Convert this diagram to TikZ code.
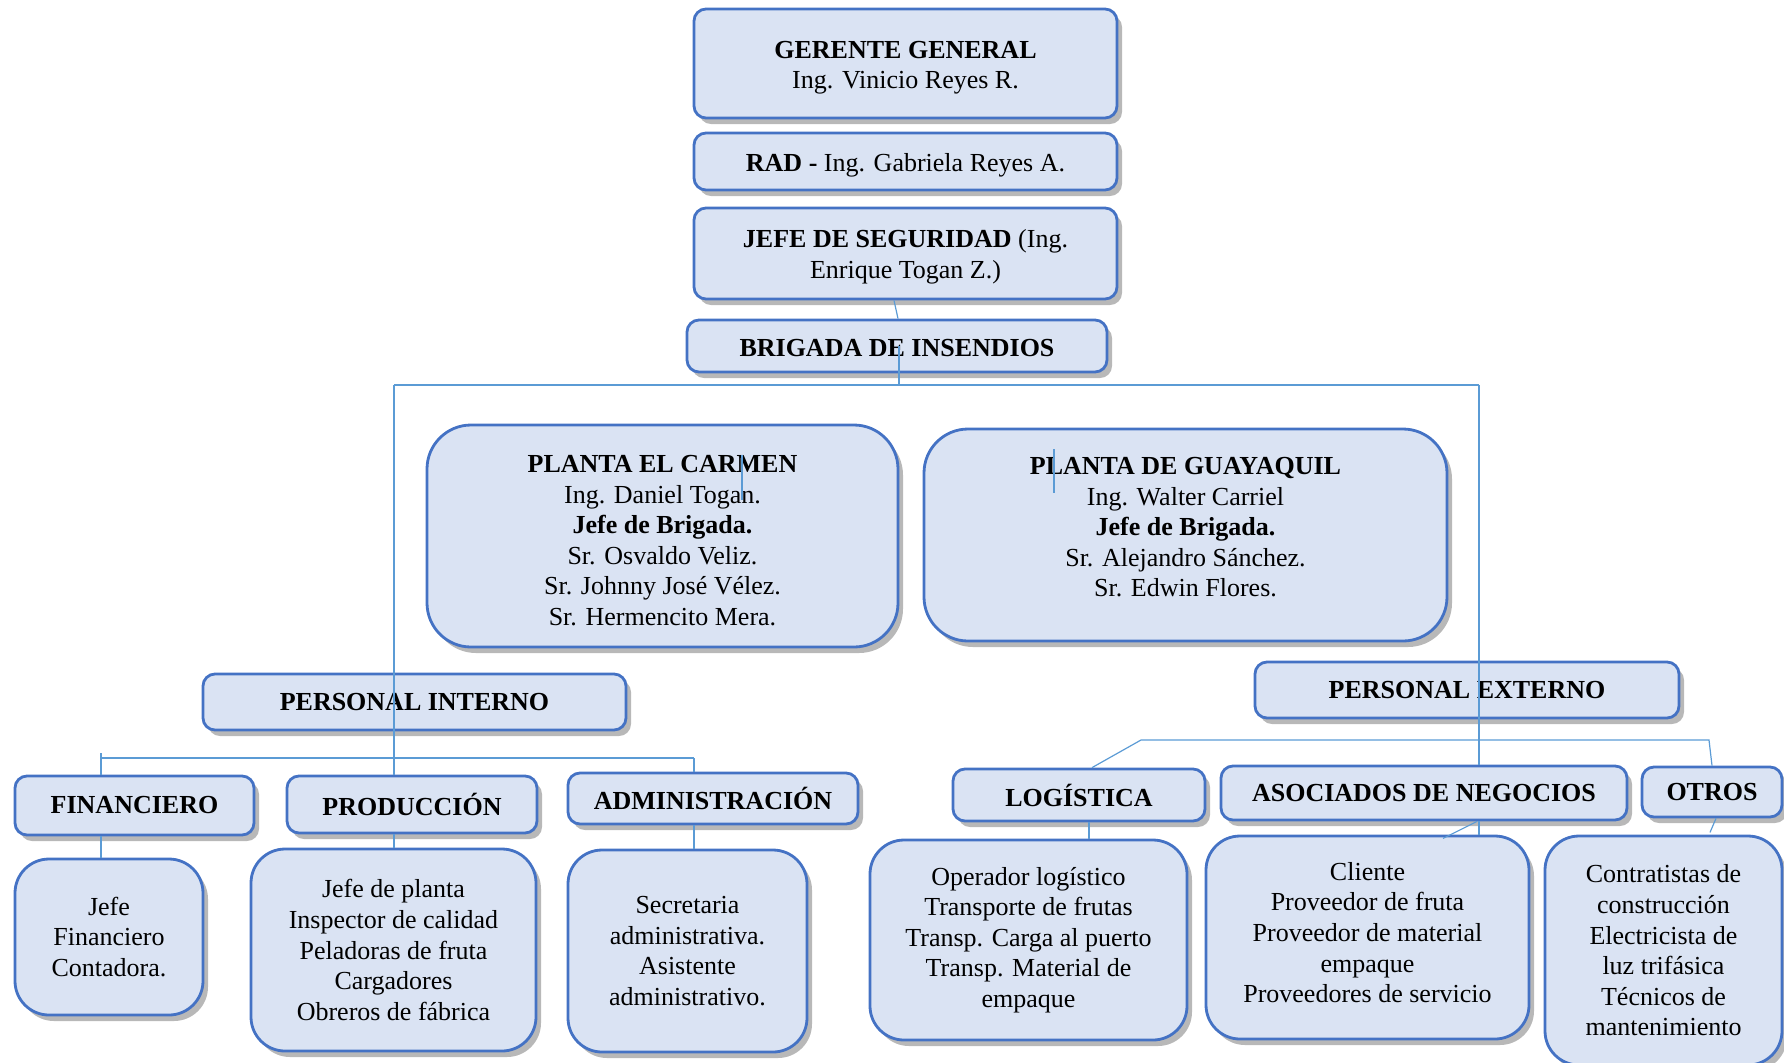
\documentclass[tikz,border=0pt]{standalone}
\usepackage{fontspec}
\setmainfont{Liberation Serif}
\usetikzlibrary{shadows}
\definecolor{boxline}{HTML}{4472C4}
\definecolor{boxfill}{HTML}{DAE3F3}
\definecolor{linkcol}{HTML}{5B9BD5}

\begin{document}
\begin{tikzpicture}[x=0.5pt, y=-0.5pt,
    font=\fontsize{13}{15.3}\selectfont,
    sz/.style 2 args={minimum width=#1*0.5pt, minimum height=#2*0.5pt},
    box/.style={draw=boxline, fill=boxfill, line width=1.4pt, rounded corners=6pt,
      align=center, inner sep=0pt,
      drop shadow={shadow xshift=2.5pt, shadow yshift=-3pt, fill=black, opacity=0.28}},
    head/.style={box, font=\fontsize{13}{15.3}\selectfont\bfseries},
    plant/.style={box, rounded corners=22pt},
    detail/.style={box, rounded corners=17pt},
    lift/.style={execute at begin node={\rule{0pt}{12.5pt}},
      execute at end node={\rule[-2.5pt]{0pt}{0pt}}},
    link/.style={draw=linkcol, line width=0.6pt}]
  \useasboundingbox (0,0) rectangle (1784,1062);

  % direccion
  \node[box, sz={423}{109}] (ger) at (905.5,63.5) {\rule{0pt}{12.6pt}\textbf{GERENTE GENERAL}\\Ing. Vinicio Reyes R.};
  \node[box, lift, sz={423}{57}] (rad) at (905.5,161.5) {\textbf{RAD -} Ing. Gabriela Reyes A.};
  \node[box, sz={423}{91}] (jefe) at (905.5,253.5) {\rule{0pt}{12pt}\textbf{JEFE DE SEGURIDAD} (Ing.\\Enrique Togan Z.)};
  \node[head, lift, sz={420}{52}] (brig) at (897,346) {BRIGADA DE INSENDIOS};

  % plantas
  \node[plant, sz={471}{222}] (carmen) at (662.5,536) {\rule{0pt}{13.2pt}\textbf{PLANTA EL CARMEN}\\Ing. Daniel Togan.\\\textbf{Jefe de Brigada.}\\Sr. Osvaldo Veliz.\\Sr. Johnny José Vélez.\\Sr. Hermencito Mera.};
  \node[plant, sz={523}{212}] (guaya) at (1185.5,535) {\textbf{PLANTA DE GUAYAQUIL}\\Ing. Walter Carriel\\\textbf{Jefe de Brigada.}\\Sr. Alejandro Sánchez.\\Sr. Edwin Flores.\rule[-8pt]{0pt}{0pt}};

  % personal
  \node[head, sz={423}{56}] (pint) at (414.5,702) {PERSONAL INTERNO};
  \node[head, sz={424}{56}] (pext) at (1467,690) {PERSONAL EXTERNO};

  \node[head, sz={239}{59}] (fin) at (134.5,805.5) {FINANCIERO};
  \node[head, sz={250}{57}] (prod) at (412,804.5) {PRODUCCIÓN};
  \node[head, sz={290}{51}] (adm) at (713,798.5) {ADMINISTRACIÓN};
  \node[head, sz={252}{52}] (log) at (1079,795) {LOGÍSTICA};
  \node[head, sz={406}{54}] (asoc) at (1424,793) {ASOCIADOS DE NEGOCIOS};
  \node[head, sz={140}{50}] (otros) at (1712,792) {OTROS};

  \node[detail, sz={188}{156}] (finD) at (109,937) {Jefe\\Financiero\\Contadora.};
  \node[detail, sz={285}{202}] (prodD) at (393.5,950) {Jefe de planta\\Inspector de calidad\\Peladoras de fruta\\Cargadores\\Obreros de fábrica};
  \node[detail, sz={239}{202}] (admD) at (687.5,951) {Secretaria\\administrativa.\\Asistente\\administrativo.};
  \node[detail, sz={317}{200}] (logD) at (1028.5,940) {Operador logístico\\Transporte de frutas\\Transp. Carga al puerto\\Transp. Material de\\empaque};
  \node[detail, sz={323}{203}] (asocD) at (1367.5,937.5) {Cliente\\Proveedor de fruta\\Proveedor de material\\empaque\\Proveedores de servicio\rule[-5pt]{0pt}{0pt}};
  \node[detail, sz={237}{229}] (otrosD) at (1663.5,950.5) {Contratistas de\\construcción\\Electricista de\\luz trifásica\\Técnicos de\\mantenimiento};

  % conectores
  \coordinate (busC) at (899,385);
  \coordinate (bL) at (394,385);
  \coordinate (bR) at (1479,385);
  \coordinate (iL) at (101,758);
  \coordinate (iR) at (694,758);
  \coordinate (eL) at (1141,740);
  \coordinate (eR) at (1709,740);
  \coordinate (lg) at ([xshift=5pt]log.south);

  \draw[link] ([xshift=-5.75pt]jefe.south) -- ([xshift=0.5pt]brig.north);
  \draw[link] ([xshift=1pt]brig.center) -- (busC);
  \draw[link] (bL) -- (bR);
  \draw[link] (bL) -- (bL |- prod.north);
  \draw[link] (bR) -- (bR |- asoc.north);
  \draw[link] (bR |- asoc.south) -- (bR |- asocD.north);
  \draw[link] (742,455) -- (742,500);
  \draw[link] (1054,449) -- (1054,493);

  \draw[link] (iL) -- (iR);
  \draw[link] (101,753) -- (iL |- fin.north);
  \draw[link] (iR) -- (iR |- adm.north);
  \draw[link] (iL |- fin.south) -- (iL |- finD.north);
  \draw[link] (bL |- prod.south) -- (bL |- prodD.north);
  \draw[link] (iR |- adm.south) -- (iR |- admD.north);

  \draw[link] ([xshift=6.5pt]log.north) -- (eL) -- (eR) -- (otros.north);
  \draw[link] (lg) -- (lg |- logD.north);
  \draw[link] ([xshift=26.5pt]asoc.south) -- ++(-34,17);
  \draw[link] ([xshift=2pt]otros.south) -- ++(-6,14);
\end{tikzpicture}
\end{document}
